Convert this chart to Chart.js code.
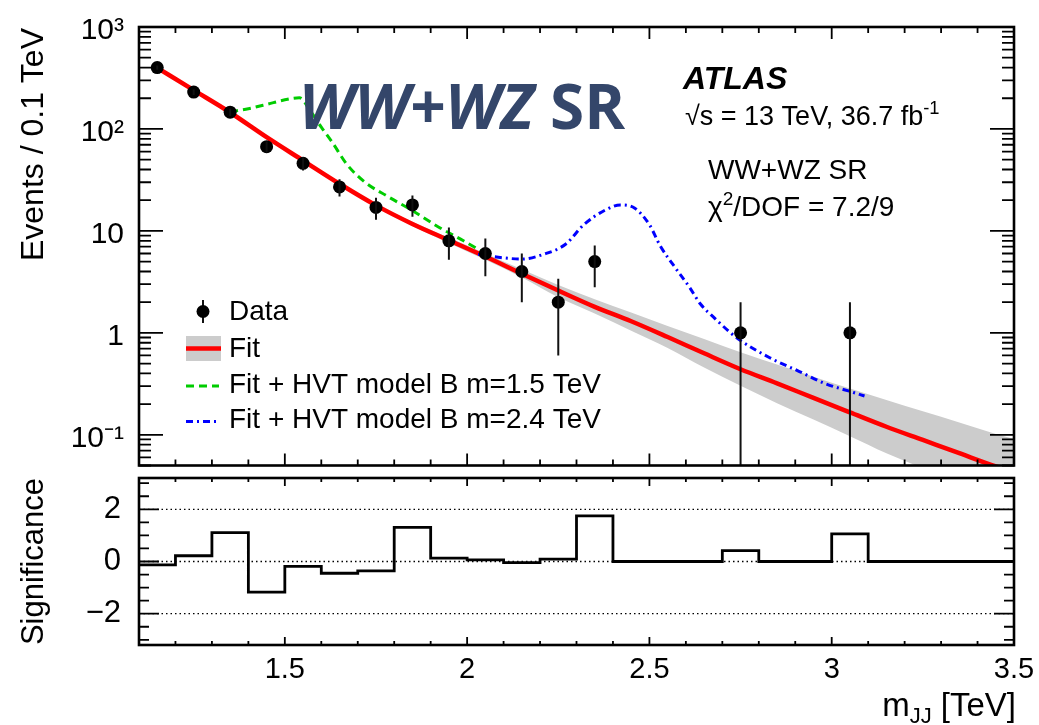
<!DOCTYPE html>
<html>
<head>
<meta charset="utf-8">
<script src="https://cdn.jsdelivr.net/npm/chart.js@4.4.1/dist/chart.umd.min.js"></script>
<style>
  html, body { margin: 0; padding: 0; background: #fff; }
  #wrap { position: relative; width: 1039px; height: 725px; overflow: hidden; }
  #mainPanel { position: absolute; left: 0; top: 0; }
  #sigPanel { position: absolute; left: 0; top: 472px; }
</style>
</head>
<body>
<div id="wrap">
  <canvas id="mainPanel" width="1039" height="472" style="width:1039px;height:472px"></canvas>
  <canvas id="sigPanel" width="1039" height="253" style="width:1039px;height:253px"></canvas>
</div>
<script>
// dijet mass bins, 0.1 TeV wide
var binCentres = [1.15, 1.25, 1.35, 1.45, 1.55, 1.65, 1.75, 1.85, 1.95, 2.05, 2.15, 2.25,
                  2.35, 2.45, 2.55, 2.65, 2.75, 2.85, 2.95, 3.05, 3.15, 3.25, 3.35, 3.45];
var eventCounts = [400, 230, 146, 67, 46, 27, 17, 18, 8, 6, 4, 2,
                   5, 0, 0, 0, 1, 0, 0, 1, 0, 0, 0, 0];
var countErrors = [20, 15.2, 12.1, 8.2, 6.8, 5.2, 4.1, 4.2, 2.8, 2.4, 2, 1.4,
                   2.2, 0, 0, 0, 1, 0, 0, 1, 0, 0, 0, 0];
var significance = [-0.13, 0.22, 1.11, -1.17, -0.19, -0.45, -0.36, 1.31, 0.13, 0.06, -0.04, 0.09,
                    1.75, 0, 0, 0, 0.42, 0, 0, 1.06, 0, 0, 0, 0];

// background fit and its uncertainty band
var fitMass = [1.15, 1.25, 1.35, 1.45, 1.55, 1.65, 1.75, 1.85, 1.95, 2.05, 2.15, 2.25, 2.35,
               2.45, 2.55, 2.65, 2.75, 2.85, 2.95, 3.05, 3.15, 3.25, 3.35, 3.45, 3.5];
var fitValues = [398, 240, 145, 83, 49, 29, 17.8, 11.7, 8.1, 5.6, 3.8, 2.6, 1.8,
                 1.3, 0.91, 0.63, 0.44, 0.32, 0.23, 0.166, 0.12, 0.089, 0.066, 0.049, 0.043];
var fitUpper = [407, 245, 148, 85, 50.4, 29.8, 18.4, 12.3, 8.6, 6.0, 4.2, 2.95, 2.14,
                1.58, 1.17, 0.87, 0.645, 0.49, 0.372, 0.285, 0.219, 0.17, 0.132, 0.102, 0.091];
var fitLower = [389, 235, 141, 81, 47.6, 28.0, 17.1, 11.2, 7.6, 5.2, 3.5, 2.24, 1.55,
                1.05, 0.71, 0.457, 0.302, 0.204, 0.141, 0.097, 0.066, 0.047, 0.033, 0.023, 0.020];

// fit + HVT signal shapes
var hvt15Mass = [1.35, 1.40, 1.45, 1.50, 1.54, 1.57, 1.60, 1.63, 1.67, 1.72, 1.78, 1.85, 1.92, 1.99, 2.05];
var hvt15Values = [147, 158, 174, 193, 202, 150, 104, 74, 45, 30, 22, 15.8, 11, 8.0, 6.0];
var hvt24Mass = [2.03, 2.07, 2.15, 2.21, 2.27, 2.32, 2.38, 2.42, 2.46, 2.50, 2.53, 2.57,
                 2.61, 2.64, 2.68, 2.72, 2.75, 2.83, 2.91, 2.98, 3.06, 3.09];
var hvt24Values = [5.9, 5.6, 5.3, 5.9, 7.4, 11.5, 16.1, 18.0, 16.7, 11.5, 7.1, 4.4,
                   2.8, 1.92, 1.38, 1.02, 0.84, 0.57, 0.42, 0.32, 0.26, 0.24];

// axis labels
var massTickValues = [1.5, 2, 2.5, 3, 3.5];
var massTickLabels = ["1.5", "2", "2.5", "3", "3.5"];
var eventTickValues = [0.1, 1, 10, 100, 1000];
var eventTickLabels = ["10\u207B\u00B9", "1", "10", "10\u00B2", "10\u00B3"];
var sigTickValues = [-2, 0, 2];
var sigTickLabels = ["\u22122", "0", "2"];
var sigRefLines = [2, 0, -2];

var FONT = "'Liberation Sans', Arial, Helvetica, sans-serif";
Chart.defaults.font.family = FONT;
Chart.defaults.color = "#000";

var GREEN_DASH = [8, 5];
var BLUE_DASH = [7, 4, 2, 4];

function pts(xs, ys) {
  return xs.map(function (x, i) { return { x: x, y: ys[i] }; });
}

function labelFor(values, labels, v) {
  for (var i = 0; i < values.length; i++) {
    if (Math.abs(values[i] - v) < 1e-6 * Math.max(1, Math.abs(v))) return labels[i];
  }
  return "";
}

// minor ticks every 0.1 TeV
function massTicks(scale) {
  var t = [];
  for (var k = 11; k <= 35; k++) t.push({ value: k / 10 });
  scale.ticks = t;
}
function isMajorMass(v) { return Math.round(v * 10) % 5 === 0; }

// keep the plot frame exactly where the layout puts it
function fixWidth(w) {
  return function (s) { s.width = w; s.paddingTop = 0; s.paddingBottom = 0; };
}
function fixHeight(h) {
  return function (s) { s.height = h; s.paddingLeft = 0; s.paddingRight = 0; };
}

// ticks drawn inside the frame on all four sides, plus the frame itself
function frameTicks(len) {
  return {
    id: "frameTicks",
    afterDraw: function (chart) {
      var a = chart.chartArea, ctx = chart.ctx;
      var xs = chart.scales.x, ys = chart.scales.y;
      ctx.save();
      ctx.strokeStyle = "#000";
      ctx.lineWidth = 1.8;
      ctx.beginPath();
      xs.ticks.forEach(function (t) {
        var px = xs.getPixelForValue(t.value);
        var l = isMajorMass(t.value) ? len.xMajor : len.xMinor;
        ctx.moveTo(px, a.bottom); ctx.lineTo(px, a.bottom - l);
        ctx.moveTo(px, a.top); ctx.lineTo(px, a.top + l);
      });
      ys.ticks.forEach(function (t) {
        var py = ys.getPixelForValue(t.value);
        var l = len.isMajorY(t.value) ? len.yMajor : len.yMinor;
        ctx.moveTo(a.left, py); ctx.lineTo(a.left + l, py);
        ctx.moveTo(a.right, py); ctx.lineTo(a.right - l, py);
      });
      ctx.stroke();
      ctx.lineWidth = 2.6;
      ctx.strokeRect(a.left, a.top, a.right - a.left, a.bottom - a.top);
      ctx.restore();
    }
  };
}

// vertical Poisson error bars on the data points
var errorBars = {
  id: "errorBars",
  afterDatasetsDraw: function (chart) {
    var a = chart.chartArea, ctx = chart.ctx;
    var xs = chart.scales.x, ys = chart.scales.y;
    ctx.save();
    ctx.beginPath();
    ctx.rect(a.left, a.top, a.right - a.left, a.bottom - a.top);
    ctx.clip();
    ctx.strokeStyle = "#111";
    ctx.lineWidth = 2;
    ctx.beginPath();
    binCentres.forEach(function (m, i) {
      if (eventCounts[i] <= 0) return;
      var px = xs.getPixelForValue(m);
      var lo = eventCounts[i] - countErrors[i];
      ctx.moveTo(px, ys.getPixelForValue(eventCounts[i] + countErrors[i]));
      ctx.lineTo(px, lo > 0 ? ys.getPixelForValue(lo) : a.bottom);
    });
    ctx.stroke();
    ctx.restore();
  }
};

// text run with optional superscripts
function drawRuns(ctx, runs, x, y, size) {
  runs.forEach(function (r) {
    var s = r.sup ? size * 0.68 : size;
    ctx.font = (r.style || "") + " " + s + "px " + FONT;
    ctx.fillText(r.t, x, r.sup ? y - size * 0.4 : y);
    x += ctx.measureText(r.t).width;
  });
}

var mainLabels = {
  id: "mainLabels",
  afterDraw: function (chart) {
    var ctx = chart.ctx;
    ctx.save();
    ctx.fillStyle = "#000";
    ctx.textBaseline = "alphabetic";
    ctx.textAlign = "left";

    // y axis title
    ctx.save();
    ctx.translate(43, 28);
    ctx.rotate(-Math.PI / 2);
    ctx.textAlign = "right";
    ctx.font = "32px " + FONT;
    ctx.fillText("Events / 0.1 TeV", 0, 0);
    ctx.restore();

    ctx.font = "bold italic 32px " + FONT;
    ctx.fillText("ATLAS", 683, 89);
    drawRuns(ctx, [{ t: "\u221As = 13 TeV, 36.7 fb" }, { t: "-1", sup: true }], 685, 125, 27);
    ctx.font = "28px " + FONT;
    ctx.fillText("WW+WZ SR", 708, 179);
    drawRuns(ctx, [{ t: "\u03C7" }, { t: "2", sup: true }, { t: "/DOF = 7.2/9" }], 708, 216, 28);

    // region tag
    ctx.fillStyle = "#34466a";
    ctx.font = "italic bold 62px 'Open Sans'";
    ctx.fillText("WW+WZ", 299, 129);
    var w = ctx.measureText("WW+WZ ").width;
    ctx.font = "bold 62px 'Open Sans'";
    ctx.fillText("SR", 299 + w, 129);

    // legend
    ctx.fillStyle = "#000";
    ctx.textBaseline = "middle";
    ctx.font = "28px " + FONT;
    ctx.strokeStyle = "#111";
    ctx.lineWidth = 2;
    ctx.beginPath();
    ctx.moveTo(203, 300); ctx.lineTo(203, 323);
    ctx.stroke();
    ctx.beginPath();
    ctx.arc(203, 311.5, 6.5, 0, 2 * Math.PI);
    ctx.fill();
    ctx.fillText("Data", 229, 312);

    ctx.fillStyle = "#cccccc";
    ctx.fillRect(186, 336, 35, 25);
    ctx.strokeStyle = "#ff0000";
    ctx.lineWidth = 4.5;
    ctx.beginPath(); ctx.moveTo(186, 348.5); ctx.lineTo(221, 348.5); ctx.stroke();
    ctx.fillStyle = "#000";
    ctx.fillText("Fit", 229, 349);

    ctx.lineWidth = 3;
    ctx.strokeStyle = "#00cc00";
    ctx.setLineDash(GREEN_DASH);
    ctx.beginPath(); ctx.moveTo(186, 386); ctx.lineTo(219, 386); ctx.stroke();
    ctx.fillText("Fit + HVT model B m=1.5 TeV", 229, 385);

    ctx.strokeStyle = "#0000ff";
    ctx.setLineDash(BLUE_DASH);
    ctx.beginPath(); ctx.moveTo(186, 421.5); ctx.lineTo(219, 421.5); ctx.stroke();
    ctx.setLineDash([]);
    ctx.fillText("Fit + HVT model B m=2.4 TeV", 229, 420);
    ctx.restore();
  }
};

var sigLabels = {
  id: "sigLabels",
  afterDraw: function (chart) {
    var ctx = chart.ctx;
    ctx.save();
    ctx.fillStyle = "#000";
    ctx.textBaseline = "alphabetic";
    ctx.save();
    ctx.translate(43, 89.5);
    ctx.rotate(-Math.PI / 2);
    ctx.textAlign = "center";
    ctx.font = "31px " + FONT;
    ctx.fillText("Significance", 0, 0);
    ctx.restore();

    // m_JJ [TeV], right aligned to the frame
    var big = 33, small = 22;
    ctx.font = big + "px " + FONT;
    var wm = ctx.measureText("m").width, wt = ctx.measureText(" [TeV]").width;
    ctx.font = small + "px " + FONT;
    var ws = ctx.measureText("JJ").width;
    var x = chart.chartArea.right + 2 - (wm + ws + wt);
    var y = 244;
    ctx.font = big + "px " + FONT;
    ctx.fillText("m", x, y);
    ctx.font = small + "px " + FONT;
    ctx.fillText("JJ", x + wm, y + 7);
    ctx.font = big + "px " + FONT;
    ctx.fillText(" [TeV]", x + wm + ws, y);
    ctx.restore();
  }
};

// upper panel: spectrum with fit on a log scale
// (higher "order" is drawn first, so the band sits underneath everything)
new Chart(document.getElementById("mainPanel").getContext("2d"), {
  type: "line",
  data: {
    datasets: [
      {
        data: pts(fitMass, fitUpper),
        order: 10,
        borderWidth: 0,
        backgroundColor: "#cccccc",
        fill: "+1",
        pointRadius: 0,
        cubicInterpolationMode: "monotone"
      },
      {
        data: pts(fitMass, fitLower),
        order: 9,
        borderWidth: 0,
        fill: false,
        pointRadius: 0,
        cubicInterpolationMode: "monotone"
      },
      {
        data: pts(fitMass, fitValues),
        order: 5,
        borderColor: "#ff0000",
        borderWidth: 4.5,
        pointRadius: 0,
        fill: false,
        cubicInterpolationMode: "monotone"
      },
      {
        data: pts(hvt15Mass, hvt15Values),
        order: 4,
        borderColor: "#00cc00",
        borderWidth: 3,
        borderDash: GREEN_DASH,
        pointRadius: 0,
        fill: false,
        cubicInterpolationMode: "monotone"
      },
      {
        data: pts(hvt24Mass, hvt24Values),
        order: 3,
        borderColor: "#0000ff",
        borderWidth: 3,
        borderDash: BLUE_DASH,
        pointRadius: 0,
        fill: false,
        cubicInterpolationMode: "monotone"
      },
      {
        data: pts(binCentres, eventCounts.map(function (n) { return n > 0 ? n : null; })),
        order: 0,
        showLine: false,
        pointRadius: 6.5,
        pointBackgroundColor: "#000",
        pointBorderWidth: 0
      }
    ]
  },
  options: {
    responsive: false,
    devicePixelRatio: 1,
    animation: false,
    events: [],
    layout: { padding: { top: 27, right: 25, bottom: 2, left: 0 } },
    plugins: { legend: { display: false }, tooltip: { enabled: false } },
    scales: {
      x: {
        type: "linear",
        min: 1.1,
        max: 3.5,
        grid: { display: false },
        border: { display: false },
        ticks: { display: false },
        afterBuildTicks: massTicks,
        afterFit: fixHeight(0)
      },
      y: {
        type: "logarithmic",
        min: 0.05,
        max: 1000,
        grid: { display: false },
        border: { display: false },
        afterBuildTicks: function (scale) {
          var t = [];
          for (var m = 5; m <= 9; m++) t.push({ value: m / 100 });
          [0.1, 1, 10, 100].forEach(function (d) {
            for (var k = 1; k <= 9; k++) t.push({ value: k * d });
          });
          t.push({ value: 1000 });
          scale.ticks = t;
        },
        ticks: {
          autoSkip: false,
          padding: 7,
          labelOffset: 4,
          font: { size: 30 },
          callback: function (v) { return labelFor(eventTickValues, eventTickLabels, v); }
        },
        afterFit: fixWidth(139)
      }
    }
  },
  plugins: [errorBars, frameTicks({
    xMajor: 12, xMinor: 6, yMajor: 24, yMinor: 12,
    isMajorY: function (v) { return Math.abs(Math.log10(v) - Math.round(Math.log10(v))) < 1e-6; }
  }), mainLabels]
});

// lower panel: bin-by-bin significance
var sigSteps = binCentres.map(function (m, i) { return { x: m - 0.05, y: significance[i] }; });
sigSteps.push({ x: 3.5, y: significance[significance.length - 1] });

new Chart(document.getElementById("sigPanel").getContext("2d"), {
  type: "line",
  data: {
    datasets: [{
      data: sigSteps,
      stepped: true,
      borderColor: "#000",
      borderWidth: 2.8,
      pointRadius: 0,
      fill: false
    }].concat(sigRefLines.map(function (v) {
      return {
        data: [{ x: 1.1, y: v }, { x: 3.5, y: v }],
        borderColor: "#000",
        borderWidth: 1.3,
        borderDash: [1.5, 3],
        pointRadius: 0,
        fill: false
      };
    }))
  },
  options: {
    responsive: false,
    devicePixelRatio: 1,
    animation: false,
    events: [],
    layout: { padding: { top: 6, right: 25, bottom: 0, left: 0 } },
    plugins: { legend: { display: false }, tooltip: { enabled: false } },
    scales: {
      x: {
        type: "linear",
        min: 1.1,
        max: 3.5,
        grid: { display: false },
        border: { display: false },
        afterBuildTicks: massTicks,
        ticks: {
          autoSkip: false,
          maxRotation: 0,
          padding: 2,
          font: { size: 29, lineHeight: 1 },
          callback: function (v) { return labelFor(massTickValues, massTickLabels, v); }
        },
        afterFit: fixHeight(80)
      },
      y: {
        type: "linear",
        min: -3.2,
        max: 3.2,
        grid: { display: false },
        border: { display: false },
        afterBuildTicks: function (scale) {
          var t = [];
          for (var k = -6; k <= 6; k++) t.push({ value: k / 2 });
          scale.ticks = t;
        },
        ticks: {
          autoSkip: false,
          padding: 10,
          font: { size: 31 },
          callback: function (v) { return labelFor(sigTickValues, sigTickLabels, v); }
        },
        afterFit: fixWidth(139)
      }
    }
  },
  plugins: [frameTicks({
    xMajor: 8, xMinor: 4, yMajor: 20, yMinor: 10,
    isMajorY: function (v) { return Math.abs(v) < 1e-6 || Math.abs(Math.abs(v) - 2) < 1e-6; }
  }), sigLabels]
});
</script>
</body>
</html>
